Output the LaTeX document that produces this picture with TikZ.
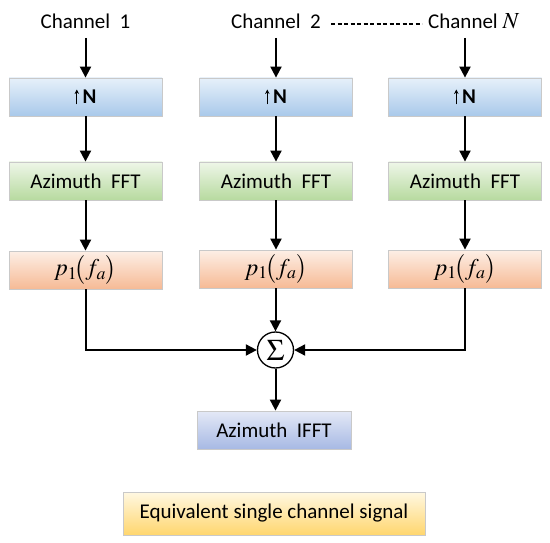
\documentclass[tikz,border=0pt]{standalone}
\usepackage{mathptmx}
\usepackage[no-math]{fontspec}
\setmainfont{Carlito}
\usetikzlibrary{arrows.meta,shadings}
\definecolor{bluetop}{HTML}{E6F0FA}
\definecolor{bluebot}{HTML}{A9C9EA}
\definecolor{greentop}{HTML}{EEF6E8}
\definecolor{greenbot}{HTML}{B7DA9F}
\definecolor{orangetop}{HTML}{FDEFE6}
\definecolor{orangebot}{HTML}{F6BA95}
\definecolor{lavtop}{HTML}{E4E9F7}
\definecolor{lavbot}{HTML}{A7B9E4}
\definecolor{yeltop}{HTML}{FFF8E2}
\definecolor{yelbot}{HTML}{FFD66E}
\definecolor{edgegray}{HTML}{C9C9C9}
\tikzset{
  txt/.style={font=\fontsize{21}{25}\selectfont, inner sep=0pt},
  box/.style={draw=edgegray, line width=0.8pt, minimum width=153pt, minimum height=38pt, inner sep=0pt, font=\fontsize{21}{25}\selectfont},
  upbox/.style={box, top color=bluetop, bottom color=bluebot},
  fftbox/.style={box, top color=greentop, bottom color=greenbot},
  pbox/.style={box, top color=orangetop, bottom color=orangebot, font=\fontsize{24}{26}\selectfont},
  ifftbox/.style={box, minimum width=154pt, top color=lavtop, bottom color=lavbot},
  eqbox/.style={box, minimum width=302pt, minimum height=43pt, top color=yeltop, bottom color=yelbot},
  conn/.style={line width=2pt, -{Triangle[length=11pt,width=11pt]}},
  dashline/.style={line width=1.6pt, dash pattern=on 4.2pt off 2.3pt},
  sumnode/.style={circle, draw, line width=1.3pt, fill=white, minimum size=36pt, inner sep=0pt}
}
\newcommand{\upN}{\tikz[baseline=0pt]\draw[line width=1.1pt,-{Stealth[length=4.5pt,width=4.5pt]}] (0,-0.5pt)--(0,14.5pt);\,\textbf{N}}
\newcommand{\pfun}{$p_1\!\bigl(f_a\bigr)$}
\begin{document}
\begin{tikzpicture}[x=1pt,y=-1pt]
\useasboundingbox (0,0) rectangle (550,543);
% channel labels
\node[txt] (ch1) at (85.5,21) {Channel\ \ 1};
\node[txt] (ch2) at (276,21) {Channel\ \ 2};
\node[txt, anchor=west] (chN) at (428,21) {Channel {\fontsize{23}{25}\selectfont$N$}};
\coordinate (dA) at (331,24);
\coordinate (dB) at (422,24);
\draw[dashline] (dA) -- (dB);
% column boxes
\node[upbox] (up1) at (85.5,97) {\upN};
\node[upbox] (up2) at (276,97) {\upN};
\node[upbox] (up3) at (465,97) {\upN};
\node[fftbox] (fft1) at (85.5,181) {Azimuth\ \ FFT};
\node[fftbox] (fft2) at (276,181) {Azimuth\ \ FFT};
\node[fftbox] (fft3) at (465,181) {Azimuth\ \ FFT};
\node[pbox] (p1) at (85.5,270) {\pfun};
\node[pbox] (p2) at (276,269) {\pfun};
\node[pbox] (p3) at (465,269) {\pfun};
% sum and output
\node[sumnode] (sum) at (275.5,350) {\fontsize{30}{32}\selectfont$\Sigma$};
\node[ifftbox] (ifft) at (274,430) {Azimuth\ \ IFFT};
\node[eqbox] (eq) at (274,513.5) {Equivalent single channel signal};
% arrows
\coordinate (s1) at (85.5,38);
\coordinate (s2) at (276,38);
\coordinate (s3) at (465,38);
\draw[conn] (s1) -- (up1.north);
\draw[conn] (s2) -- (up2.north);
\draw[conn] (s3) -- (up3.north);
\draw[conn] (up1.south) -- (fft1.north);
\draw[conn] (up2.south) -- (fft2.north);
\draw[conn] (up3.south) -- (fft3.north);
\draw[conn] (fft1.south) -- (p1.north);
\draw[conn] (fft2.south) -- (p2.north);
\draw[conn] (fft3.south) -- (p3.north);
\draw[conn] (p1.south) |- (sum.west);
\draw[conn] (p3.south) |- (sum.east);
\draw[conn] (p2.south -| sum.north) -- (sum.north);
\draw[conn] (sum.south) -- (ifft.north -| sum.south);
\end{tikzpicture}
\end{document}
